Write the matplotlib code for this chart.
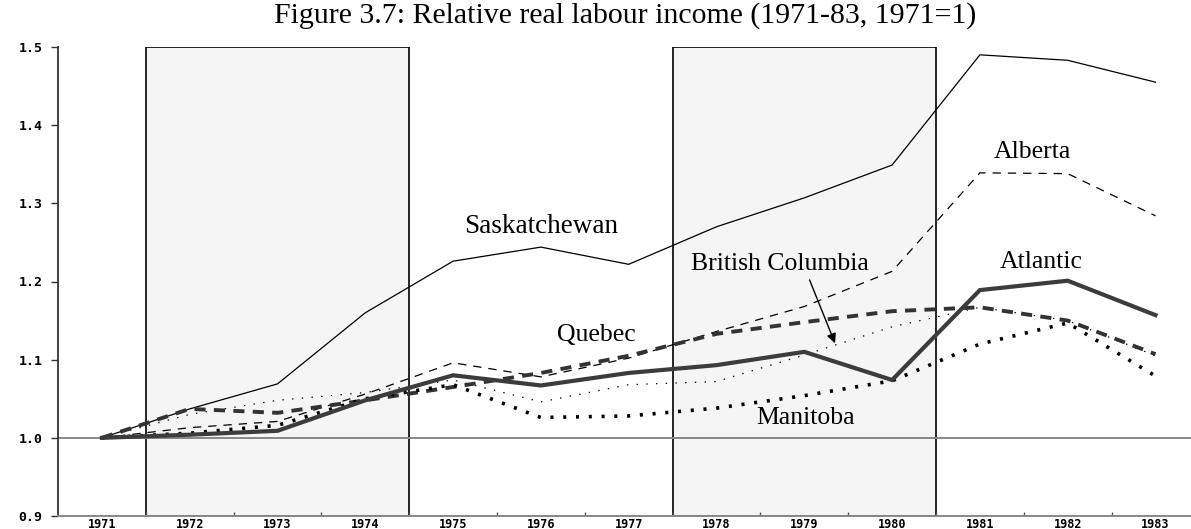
import matplotlib
matplotlib.use("Agg")
import matplotlib.pyplot as plt
from matplotlib.patches import Rectangle

plt.rcParams['lines.scale_dashes'] = False

years = [1971, 1972, 1973, 1974, 1975, 1976, 1977, 1978, 1979, 1980, 1981, 1982, 1983]
saskatchewan = [1.000, 1.037, 1.069, 1.160, 1.226, 1.244, 1.222, 1.270, 1.307, 1.349, 1.490, 1.483, 1.455]
alberta = [1.000, 1.013, 1.021, 1.056, 1.096, 1.078, 1.102, 1.136, 1.168, 1.213, 1.339, 1.338, 1.284]
british_columbia = [1.000, 1.030, 1.048, 1.058, 1.074, 1.046, 1.068, 1.072, 1.106, 1.142, 1.167, 1.150, 1.105]
atlantic = [1.000, 1.004, 1.009, 1.048, 1.080, 1.067, 1.083, 1.093, 1.110, 1.074, 1.189, 1.201, 1.157]
quebec = [1.000, 1.037, 1.032, 1.048, 1.065, 1.083, 1.105, 1.133, 1.148, 1.162, 1.167, 1.150, 1.107]
manitoba = [1.000, 1.006, 1.016, 1.050, 1.068, 1.026, 1.028, 1.038, 1.054, 1.073, 1.120, 1.147, 1.079]
shaded_periods = [(1971.5, 1974.5), (1977.5, 1980.5)]
yticks = [0.9, 1.0, 1.1, 1.2, 1.3, 1.4, 1.5]
title = "Figure 3.7: Relative real labour income (1971-83, 1971=1)"

fig = plt.figure(figsize=(11.91, 5.29), dpi=100)
ax = fig.add_axes([58/1191, 1 - 516/529, 1 - 58/1191, (516 - 47)/529])
ax.set_xlim(1970.5, 1970.5 + (1191 - 58) / 87.8)
ax.set_ylim(0.9, 1.5)

for (a, b) in shaded_periods:
    ax.add_patch(Rectangle((a, 0.9), b - a, 0.6, facecolor='#f5f5f5',
                           edgecolor='black', linewidth=1.2, zorder=0))

ax.axhline(1.0, color='#888888', linewidth=1.4, zorder=1)

serif = ['Liberation Serif', 'DejaVu Serif']

ax.plot(years, saskatchewan, color='black', linewidth=0.9, zorder=3)
ax.plot(years, alberta, color='black', linewidth=0.9, linestyle=(0, (6, 5)), zorder=3)
ax.plot(years, british_columbia, color='black', linewidth=0.9, linestyle=(0, (1, 6)), zorder=3)
ax.plot(years, quebec, color='#333333', linewidth=2.8, linestyle=(0, (8, 6)),
        dash_capstyle='butt', zorder=4)
ax.plot(years, atlantic, color='#3c3c3c', linewidth=3.0, zorder=5,
        solid_joinstyle='miter')
ax.plot(years, manitoba, color='black', linewidth=2.6, linestyle=(0, (2.2, 7)),
        dash_capstyle='butt', zorder=4)

fs = 18.5
ax.text(1976.0, 1.271, "Saskatchewan", fontsize=19.5, family=serif, ha='center', va='center')
ax.text(1981.6, 1.366, "Alberta", fontsize=fs, family=serif, ha='center', va='center')
ax.text(1978.72, 1.222, "British Columbia", fontsize=fs, family=serif, ha='center', va='center')
ax.text(1981.7, 1.225, "Atlantic", fontsize=fs, family=serif, ha='center', va='center')
ax.text(1976.63, 1.131, "Quebec", fontsize=fs, family=serif, ha='center', va='center')
ax.text(1979.01, 1.025, "Manitoba", fontsize=fs, family=serif, ha='center', va='center')
ax.annotate("", xy=(1979.35, 1.121), xytext=(1979.06, 1.202),
            arrowprops=dict(arrowstyle='-|>', color='black', lw=1.0,
                            mutation_scale=14, shrinkA=0, shrinkB=0))

fig.text(625/1191, 1 - 16/529, title, fontsize=21.5, family=serif, ha='center', va='center')

for s in ['top', 'right']:
    ax.spines[s].set_visible(False)
ax.spines['left'].set_color('#333333')
ax.spines['left'].set_linewidth(1.3)
ax.spines['bottom'].set_color('#888888')
ax.spines['bottom'].set_linewidth(1.4)

ax.set_yticks(yticks)
ax.set_yticklabels([f"{v:.1f}" for v in yticks])
ax.tick_params(axis='y', direction='out', length=5, width=1, color='#333333', pad=6)

ax.set_xticks([y + 0.5 for y in years[:-1]])
ax.set_xticklabels([])
ax.set_xticks(years, minor=True)
ax.set_xticklabels([str(y) for y in years], minor=True)
ax.tick_params(axis='x', which='major', direction='in', length=3, width=1, color='#555555')
ax.tick_params(axis='x', which='minor', length=0, pad=1.5)

for lab in ax.get_yticklabels():
    lab.set_family('DejaVu Sans Mono')
    lab.set_fontweight('bold')
    lab.set_fontsize(9.5)
for lab in ax.get_xticklabels(minor=True):
    lab.set_family('DejaVu Sans Mono')
    lab.set_fontweight('bold')
    lab.set_fontsize(8.5)

fig.savefig("out.png", dpi=100)
